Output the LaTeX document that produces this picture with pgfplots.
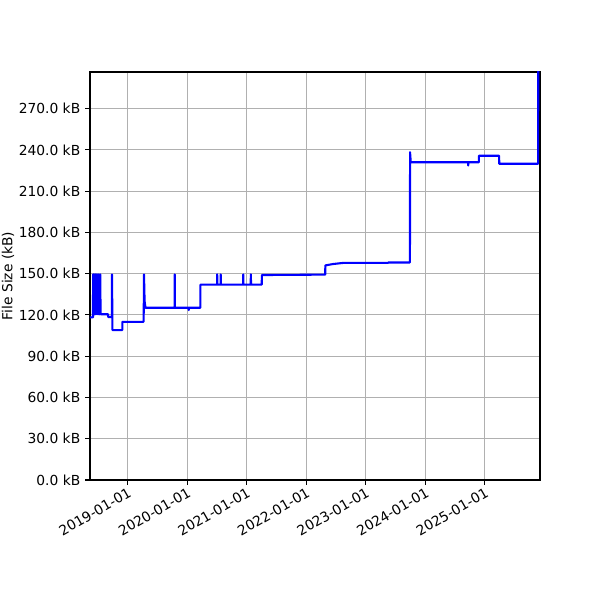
\documentclass[border=0pt]{standalone}
\usepackage{pgfplots}
\pgfplotsset{compat=1.18}
\usepackage{fontspec}
\setmainfont{DejaVu Sans}
\definecolor{gridgray}{HTML}{B0B0B0}
\begin{document}
\begin{tikzpicture}
\path[use as bounding box] (-0.9in,-1.2in) rectangle (5.1in,4.8in);
\begin{axis}[
  scale only axis, width=4.5in, height=4.08in,
  at={(0,0)}, anchor=south west,
  xmin=2018.368, xmax=2025.925, ymin=0, ymax=296.6,
  xtick={2019,2020,2021,2022,2023,2024,2025},
  xticklabels={2019-01-01,2020-01-01,2021-01-01,2022-01-01,2023-01-01,2024-01-01,2025-01-01},
  ytick={0,30,...,270},
  yticklabel={\pgfmathprintnumber[fixed,fixed zerofill,precision=1]{\tick} kB},
  /pgf/number format/assume math mode=true,
  tick align=outside, major tick length=3.5pt,
  tick style={black, line width=0.8pt},
  axis line style={black, line width=0.8pt},
  xtick pos=bottom, ytick pos=left,
  grid=major, grid style={gridgray, line width=0.8pt},
  ticklabel style={font=\fontsize{10}{12}\selectfont},
  xticklabel style={rotate=30, anchor=north east, inner sep=1pt},
  ylabel={File Size (kB)},
  ylabel style={font=\fontsize{10}{12}\selectfont, at={(axis description cs:-0.182,0.5)}, anchor=center},
]
\addplot[blue, line width=1.5pt, line join=round] coordinates {
(2018.368,118.2)(2018.418,118.2)
(2018.420,149.5)(2018.428,149.5)(2018.430,120.5)(2018.440,149.5)(2018.448,120.5)
(2018.458,149.5)(2018.468,120.5)(2018.478,149.5)(2018.488,120.5)(2018.498,149.5)
(2018.508,120.5)(2018.518,149.5)(2018.528,120.5)(2018.540,149.5)(2018.546,120.5)
(2018.670,120.5)(2018.672,118.5)(2018.735,118.5)(2018.738,149.5)(2018.745,109)
(2018.911,109)(2018.913,115)(2019.269,115)(2019.275,149.5)(2019.285,130)(2019.300,125.2)
(2019.789,125.2)(2019.791,149.5)(2019.795,125.2)(2020.024,125.2)(2020.026,123.5)(2020.030,125.2)
(2020.221,125.2)(2020.223,142)
(2020.502,142)(2020.504,149.5)(2020.508,142)
(2020.561,142)(2020.563,149.5)(2020.567,142)
(2020.939,142)(2020.941,149.5)(2020.945,142)
(2021.067,142)(2021.069,149.5)(2021.073,142)
(2021.252,142)(2021.254,149)(2022.318,149.3)(2022.320,156)(2022.45,157)(2022.617,157.8)
(2023.373,157.8)(2023.375,158.1)(2023.741,158.1)(2023.743,238.3)(2023.755,231)
(2024.717,231)(2024.719,228.6)(2024.723,231)(2024.897,231)(2024.899,235.7)
(2025.239,235.7)(2025.241,229.9)(2025.894,229.9)(2025.896,300)
};
\end{axis}
\end{tikzpicture}
\end{document}
